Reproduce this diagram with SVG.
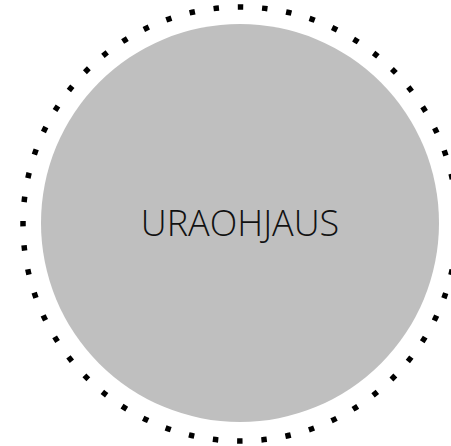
<svg xmlns="http://www.w3.org/2000/svg" width="451" height="446" viewBox="0 0 451 446">
<style>
.ring{fill:none;stroke:#000;stroke-width:5.5;stroke-dasharray:5.5 18.85;stroke-dashoffset:2.75}
.core{fill:#BFBFBF}
.lbl{font-family:"Open Sans","Segoe UI","Liberation Sans",sans-serif;font-weight:300;font-size:36px;fill:#111;text-anchor:middle}
</style>
<rect width="451" height="446" fill="#fff"/>
<g id="ring">
<circle class="ring" cx="240" cy="224" r="217"/>
</g>
<g id="node-uraohjaus">
<circle class="core" cx="240" cy="223" r="199"/>
<text class="lbl" x="240" y="236">URAOHJAUS</text>
</g>
<g id="connectors"/>
</svg>
